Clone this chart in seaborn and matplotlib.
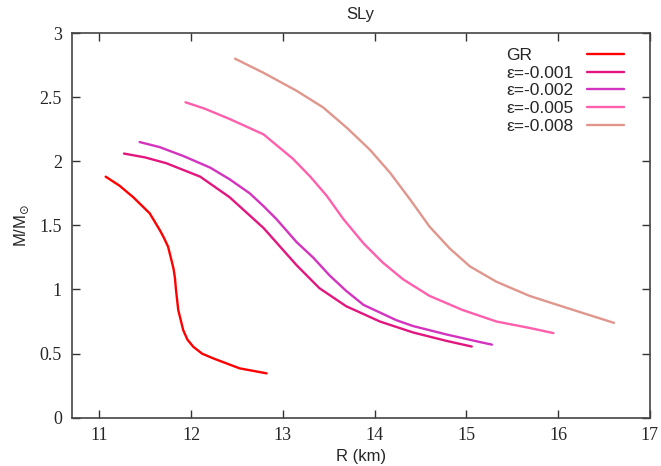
import numpy as np
import pandas as pd
import matplotlib
matplotlib.use('Agg')
import matplotlib.pyplot as plt
import seaborn as sns

# Кривые масса-радиус
labels = ['GR', 'ε=-0.001', 'ε=-0.002', 'ε=-0.005', 'ε=-0.008']
colors = ['#ff0000', '#e3167f', '#d433bf', '#ff5fac', '#e0968c']

r_gr = [11.07, 11.22, 11.37, 11.55, 11.66, 11.70, 11.75, 11.79, 11.81, 11.825, 11.836, 11.861,
        11.915, 11.96, 12.024, 12.12, 12.242, 12.53, 12.824]
m_gr = [1.88, 1.81, 1.72, 1.594, 1.463, 1.41, 1.334, 1.22, 1.16, 1.09, 1.00, 0.84,
        0.684, 0.61, 0.554, 0.50, 0.463, 0.385, 0.346]

r_001 = [11.27, 11.50, 11.73, 12.10, 12.42, 12.79, 13.15, 13.40, 13.69, 14.06, 14.42, 14.78, 15.06]
m_001 = [2.06, 2.03, 1.985, 1.88, 1.72, 1.48, 1.19, 1.01, 0.87, 0.75, 0.665, 0.60, 0.555]

r_002 = [11.44, 11.66, 11.92, 12.21, 12.42, 12.64, 12.79, 12.93, 13.15, 13.33, 13.51, 13.69,
         13.88, 14.06, 14.24, 14.42, 14.78, 15.15, 15.28]
m_002 = [2.15, 2.11, 2.04, 1.95, 1.86, 1.75, 1.65, 1.55, 1.37, 1.25, 1.11, 0.99,
         0.88, 0.82, 0.76, 0.715, 0.65, 0.59, 0.57]

r_005 = [11.94, 12.15, 12.42, 12.79, 13.11, 13.30, 13.48, 13.66, 13.88, 14.09, 14.31, 14.60,
         14.96, 15.33, 15.69, 15.95]
m_005 = [2.46, 2.41, 2.33, 2.21, 2.02, 1.88, 1.73, 1.55, 1.36, 1.21, 1.08, 0.95,
         0.84, 0.75, 0.70, 0.66]

r_008 = [12.48, 12.79, 13.15, 13.44, 13.70, 13.95, 14.17, 14.39, 14.60, 14.82, 15.04, 15.33,
         15.69, 15.95, 16.30, 16.61]
m_008 = [2.80, 2.69, 2.55, 2.42, 2.26, 2.09, 1.91, 1.70, 1.49, 1.32, 1.18, 1.06,
         0.95, 0.89, 0.81, 0.74]

x_ticks = [11, 12, 13, 14, 15, 16, 17]
y_ticks = [0, 0.5, 1, 1.5, 2, 2.5, 3]
y_tick_labels = ['0', '0.5', '1', '1.5', '2', '2.5', '3']

curves = [(r_gr, m_gr), (r_001, m_001), (r_002, m_002), (r_005, m_005), (r_008, m_008)]
frames = []
for lab, (r, m) in zip(labels, curves):
    frames.append(pd.DataFrame({'R': r, 'M': m, 'model': lab}))
df = pd.concat(frames, ignore_index=True)

sns.set_style('white')
plt.rcParams['font.family'] = ['Liberation Sans', 'DejaVu Sans']

fig = plt.figure(figsize=(6.61, 4.66), dpi=100)
ax = fig.add_axes([0.1085, 0.1036, 0.8745, 0.8255])

sns.lineplot(data=df, x='R', y='M', hue='model', hue_order=labels,
             palette=dict(zip(labels, colors)), estimator=None, sort=False,
             linewidth=1.7, ax=ax)

ax.set_xlim(10.7, 17)
ax.set_ylim(0, 3)
ax.set_xticks(x_ticks)
ax.set_xticklabels([str(t) for t in x_ticks])
ax.set_yticks(y_ticks)
ax.set_yticklabels(y_tick_labels)
for lbl in ax.get_xticklabels() + ax.get_yticklabels():
    lbl.set_family(['Liberation Serif', 'DejaVu Serif'])
    lbl.set_fontsize(13)
ax.tick_params(direction='in', length=6, width=1, top=True, right=True,
               bottom=True, left=True, color='#333333', pad=7)
for s in ax.spines.values():
    s.set_color('#444444')
    s.set_linewidth(1.2)

ax.set_xlabel('R (km)', fontsize=12, labelpad=3)
ax.set_ylabel(r'M/M$_{\odot}$', fontsize=12, labelpad=6)
ax.set_title('SLy', fontsize=12, pad=10)

leg = ax.legend(loc='upper right', bbox_to_anchor=(0.967, 0.98), frameon=False,
                markerfirst=False, fontsize=12.5, handlelength=2.1,
                handletextpad=0.8, labelspacing=0.15, borderaxespad=0)

# текст в легенде выровнять по левому краю (как в gnuplot)
fig.canvas.draw()
texts = leg.get_texts()
exts = [t.get_window_extent() for t in texts]
x_left = min(e.x0 for e in exts)
inv = fig.transFigure.inverted()
for t in texts:
    px, py = t.get_transform().transform(t.get_position())
    fx, fy = inv.transform((x_left, py))
    fig.text(fx, fy, t.get_text(), fontsize=t.get_fontsize(),
             ha='left', va='baseline')
    t.set_visible(False)

fig.savefig('out.png', dpi=100)
